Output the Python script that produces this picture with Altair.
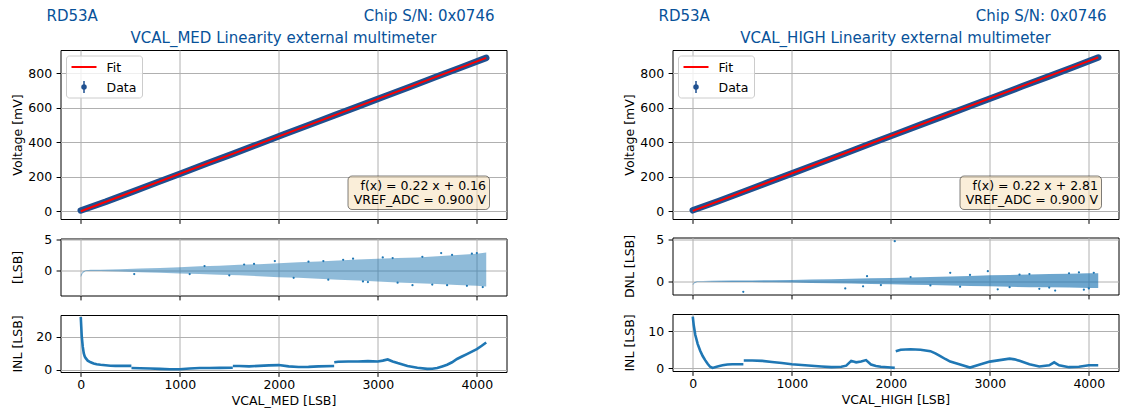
import altair as alt
import pandas as pd

FONT = "DejaVu Sans"
TXT_BLUE = "#07529a"
C0 = "#1f77b4"
DATA_C = "#1f5090"

# ---------------- data ----------------
codes = [0, 256, 512, 768, 1024, 1280, 1536, 1792, 2048, 2304, 2560, 2816, 3072, 3328, 3584, 3840, 4095]
med_volt = [5, 56, 111, 167, 222, 278, 333, 389, 445, 500, 556, 611, 667, 722, 778, 833, 889]
high_volt = [6, 58, 113, 169, 224, 280, 335, 391, 446, 502, 557, 613, 668, 724, 779, 835, 891]
fit_x = [0, 4095]
med_fit = [0.16, 889.2]
high_fit = [2.81, 891.8]

dnl_x = [0, 20, 50, 100, 200, 400, 600, 800, 1000, 1200, 1400, 1600, 1800, 2000,
         2200, 2400, 2600, 2800, 3000, 3200, 3400, 3600, 3800, 4000, 4095]
med_dnl_hi = [-0.7, -0.2, 0.0, 0.08, 0.12, 0.2, 0.3, 0.4, 0.5, 0.65, 0.75, 0.9, 1.0, 1.15,
              1.3, 1.45, 1.6, 1.75, 1.9, 2.0, 2.1, 2.3, 2.5, 2.7, 2.9]
med_dnl_lo = [-1.1, -0.45, -0.12, -0.1, -0.12, -0.2, -0.3, -0.4, -0.5, -0.6, -0.7, -0.8, -0.95, -1.1,
              -1.2, -1.35, -1.5, -1.65, -1.8, -1.95, -2.1, -2.2, -2.35, -2.5, -2.6]
high_dnl_hi = [-0.35, -0.1, 0.0, 0.04, 0.06, 0.08, 0.1, 0.13, 0.16, 0.2, 0.25, 0.3, 0.35, 0.4,
               0.45, 0.5, 0.55, 0.62, 0.7, 0.75, 0.8, 0.85, 0.9, 0.95, 0.95]
high_dnl_lo = [-0.45, -0.2, -0.06, -0.04, -0.06, -0.08, -0.1, -0.13, -0.16, -0.2, -0.24, -0.28, -0.32, -0.36,
               -0.4, -0.45, -0.5, -0.55, -0.6, -0.65, -0.7, -0.72, -0.75, -0.8, -0.8]
# scattered DNL points read near the edges of the clouds
med_out_x = [540, 1960, 2750, 3640, 3350, 4060, 1250, 1500, 1750, 2150, 2300, 2500, 2650, 2900,
             3050, 3200, 3450, 3550, 3750, 3900, 4000, 2450, 2850, 3150, 3700, 3950, 1100, 1650]
med_out_y = [-0.6, 1.5, 1.9, 2.8, -2.4, -2.7, 0.7, -0.8, 1.05, -1.2, 1.4, -1.5, 1.7, -1.9,
             2.1, -2.0, 2.2, -2.3, 2.5, -2.5, 2.8, 1.5, -1.8, 2.0, -2.4, 2.7, -0.6, 0.95]
high_out_x = [510, 1540, 1760, 2040, 2980, 3080, 3660, 3900, 1720, 2600, 2200, 2400, 2800, 3200,
              3400, 3600, 3800, 4000, 4050, 1900, 2700, 3300, 3500, 3950]
high_out_y = [-1.25, -0.85, 0.6, 4.75, 1.2, -0.95, -1.1, 1.05, -0.6, 1.0, 0.5, -0.5, 0.75, -0.7,
              0.85, -0.75, 0.95, -0.85, 1.0, -0.45, -0.65, 0.8, -0.9, -1.0]

med_inl_seg = [1] * 18 + [2] * 11 + [3] * 11 + [4] * 25
med_inl_x = [0, 5, 10, 20, 30, 40, 50, 70, 100, 130, 160, 200, 250, 300, 350, 400, 450, 511,
             512, 600, 700, 800, 900, 1000, 1100, 1200, 1300, 1400, 1535,
             1536, 1600, 1700, 1800, 1900, 2000, 2100, 2200, 2300, 2400, 2559,
             2560, 2600, 2700, 2800, 2900, 3000, 3050, 3100, 3150, 3200, 3300, 3400, 3500, 3550,
             3600, 3650, 3700, 3750, 3800, 3850, 3900, 3950, 4000, 4050, 4095]
med_inl_y = [32, 26, 20, 14, 10, 8, 7, 5.5, 4.5, 3.8, 3.3, 3.0, 2.7, 2.4, 2.3, 2.3, 2.4, 2.3,
             1.0, 0.9, 0.7, 0.5, 0.3, 0.3, 0.7, 1.0, 1.0, 1.1, 1.2,
             2.2, 2.2, 2.0, 2.3, 2.6, 2.8, 2.0, 1.6, 1.7, 2.0, 2.2,
             4.5, 4.8, 5.0, 5.0, 5.2, 5.0, 5.5, 6.2, 5.0, 4.0, 2.2, 1.2, 0.5, 0.6,
             1.0, 2.0, 3.0, 4.5, 6.5, 8.0, 9.5, 11.0, 12.5, 14.5, 16.5]

high_inl_seg = [1] * 16 + [2] * 21 + [3] * 26
high_inl_x = [0, 10, 25, 50, 75, 100, 125, 150, 175, 200, 250, 300, 350, 400, 450, 511,
              515, 600, 700, 800, 900, 1000, 1100, 1200, 1300, 1400, 1500, 1550, 1600, 1650,
              1700, 1750, 1800, 1850, 1900, 2000, 2040,
              2050, 2100, 2200, 2300, 2400, 2450, 2500, 2550, 2600, 2700, 2800, 2900, 3000,
              3100, 3200, 3250, 3300, 3400, 3500, 3600, 3650, 3700, 3800, 3900, 4000, 4095]
high_inl_y = [13.9, 11.5, 9.0, 6.5, 4.7, 3.3, 2.2, 1.2, 0.4, 0.1, 0.5, 0.8, 1.0, 1.1, 1.1, 1.1,
              2.1, 2.1, 2.0, 1.7, 1.4, 1.1, 0.9, 0.7, 0.5, 0.3, 0.4, 0.7, 2.0, 1.6,
              1.8, 2.2, 1.0, 0.6, 0.4, 0.2, 0.1,
              4.6, 5.0, 5.1, 5.0, 4.6, 4.0, 3.3, 2.5, 1.8, 1.0, 0.2, 1.0, 1.8,
              2.2, 2.6, 2.4, 2.0, 1.1, 0.5, 0.8, 1.6, 0.8, 0.3, 0.4, 0.8, 0.8]

x_ticks = [0, 1000, 2000, 3000, 4000]
volt_ticks = [0, 200, 400, 600, 800]

# ---------------- layout helpers ----------------
W = 446
H_MAIN = 169
H_SUB = 57
X_DOM = [-204.75, 4299.75]
FS = 12.5


def xaxis(labels, title=None):
    kw = {}
    if not labels:
        kw = {"minExtent": 0, "maxExtent": 4.4}
    return alt.Axis(values=x_ticks, labels=labels, title=title, grid=True, ticks=True,
                    domain=False, tickSize=4.4, tickWidth=1, tickColor="black",
                    labelPadding=2.5, labelFontSize=FS, titleFontSize=FS, titlePadding=3,
                    gridColor="#b0b0b0", gridWidth=1, format="d", labelColor="black",
                    titleColor="black", titleFontWeight="normal", **kw)


def yaxis(values, title):
    return alt.Axis(values=values, title=title, grid=True, ticks=True, domain=False,
                    tickSize=4.4, tickWidth=1, tickColor="black", labelPadding=4.4,
                    labelFontSize=FS, titleFontSize=FS, titlePadding=6,
                    minExtent=30, maxExtent=30, gridColor="#b0b0b0", gridWidth=1,
                    format="d", labelColor="black", titleColor="black",
                    titleFontWeight="normal")


def xenc(labels, title=None):
    return alt.X("x:Q", scale=alt.Scale(domain=X_DOM, nice=False, zero=False),
                 axis=xaxis(labels, title))


def text_layer(t, x, y, size=FS, color="black", align="left"):
    return alt.Chart(pd.DataFrame({"t": [t]})).mark_text(
        font=FONT, fontSize=size, color=color, align=align, baseline="alphabetic"
    ).encode(x=alt.value(x), y=alt.value(y), text="t:N")


def column(title, xlabel, volts, fit_v, annot, dnl_title, dnl_dom, dnl_hi, dnl_lo,
           out_x, out_y, band_op, inl_dom, inl_ticks, inl_x, inl_y, inl_seg):
    ddf = pd.DataFrame({"x": codes, "v": volts})
    fdf = pd.DataFrame({"x": fit_x, "v": fit_v})
    yv = alt.Y("v:Q", scale=alt.Scale(domain=[-44.5, 934.5], nice=False, zero=False),
               axis=yaxis(volt_ticks, "Voltage [mV]"))
    data_line = alt.Chart(ddf).mark_line(color=DATA_C, strokeWidth=6.5, strokeCap="round").encode(
        x=xenc(False), y=yv)
    fit_line = alt.Chart(fdf).mark_line(color="red", strokeWidth=2).encode(x="x:Q", y="v:Q")

    one = pd.DataFrame({"a": [0]})
    leg_box = alt.Chart(one).mark_rect(fill="white", fillOpacity=0.8, stroke="#cccccc",
                                       strokeWidth=1, cornerRadius=3).encode(
        x=alt.value(6), x2=alt.value(82), y=alt.value(6), y2=alt.value(48))
    leg_fit = alt.Chart(one).mark_rule(color="red", strokeWidth=2).encode(
        x=alt.value(11), x2=alt.value(36), y=alt.value(17))
    leg_bar = alt.Chart(one).mark_rule(color=DATA_C, strokeWidth=1.5).encode(
        x=alt.value(23.5), y=alt.value(31), y2=alt.value(43))
    leg_dot = alt.Chart(one).mark_point(filled=True, color=DATA_C, size=30, opacity=1).encode(
        x=alt.value(23.5), y=alt.value(37))
    leg_t1 = text_layer("Fit", 46, 21.5)
    leg_t2 = text_layer("Data", 46, 41.5)

    ann_box = alt.Chart(one).mark_rect(fill="#f5deb3", fillOpacity=0.5, stroke="black",
                                       strokeOpacity=0.5, strokeWidth=1, cornerRadius=4).encode(
        x=alt.value(287.5), x2=alt.value(429), y=alt.value(126), y2=alt.value(159.5))
    ann1 = text_layer(annot[0], 425.5, 139.5, align="right")
    ann2 = text_layer(annot[1], 425.5, 153.5, align="right")

    hdr1 = text_layer("RD53A", -14, -29, size=15, color=TXT_BLUE)
    hdr2 = text_layer("Chip S/N: 0x0746", 434, -29, size=15, color=TXT_BLUE, align="right")
    ttl = text_layer(title, W / 2, -7, size=15, color=TXT_BLUE, align="center")

    main = alt.layer(data_line, fit_line, leg_box, leg_fit, leg_bar, leg_dot, leg_t1, leg_t2,
                     ann_box, ann1, ann2, hdr1, hdr2, ttl).properties(width=W, height=H_MAIN)

    bdf = pd.DataFrame({"x": dnl_x, "hi": dnl_hi, "lo": dnl_lo})
    odf = pd.DataFrame({"x": out_x, "y": out_y})
    band = alt.Chart(bdf).mark_area(color=C0, opacity=band_op).encode(
        x=xenc(False),
        y=alt.Y("lo:Q", scale=alt.Scale(domain=dnl_dom, nice=False, zero=False),
                axis=yaxis([0, 5], dnl_title)),
        y2="hi:Q")
    outl = alt.Chart(odf).mark_circle(color=C0, size=5, opacity=1).encode(x="x:Q", y="y:Q")
    dnl = alt.layer(band, outl).properties(width=W, height=H_SUB)

    idf = pd.DataFrame({"x": inl_x, "y": inl_y, "seg": inl_seg})
    inl = alt.Chart(idf).mark_line(color=C0, strokeWidth=2.6).encode(
        x=xenc(True, xlabel),
        y=alt.Y("y:Q", scale=alt.Scale(domain=inl_dom, nice=False, zero=False),
                axis=yaxis(inl_ticks, "INL [LSB]")),
        detail="seg:N").properties(width=W, height=H_SUB)

    lower = alt.vconcat(dnl, inl, spacing=9.5)
    return alt.vconcat(main, lower, spacing=7.5)


left = column("VCAL_MED Linearity external multimeter", "VCAL_MED [LSB]", med_volt, med_fit,
              ["f(x) = 0.22 x + 0.16", "VREF_ADC = 0.900 V"], "[LSB]", [-4.07, 5.16],
              med_dnl_hi, med_dnl_lo, med_out_x, med_out_y, 0.5, [-1.4, 33.2], [0, 20],
              med_inl_x, med_inl_y, med_inl_seg)
right = column("VCAL_HIGH Linearity external multimeter", "VCAL_HIGH [LSB]", high_volt, high_fit,
               ["f(x) = 0.22 x + 2.81", "VREF_ADC = 0.900 V"], "DNL [LSB]", [-1.57, 5.19],
               high_dnl_hi, high_dnl_lo, high_out_x, high_out_y, 0.65, [-0.73, 14.6], [0, 10],
               high_inl_x, high_inl_y, high_inl_seg)

chart = alt.hconcat(left, right, spacing=115).properties(
    padding={"left": 10.5, "top": 8, "right": 5, "bottom": 2},
    background="white",
).configure_view(stroke="black", strokeWidth=1).configure_axis(
    labelFont=FONT, titleFont=FONT
).configure_text(font=FONT)

chart.save("out.html", embed_options={"renderer": "svg", "actions": False})
